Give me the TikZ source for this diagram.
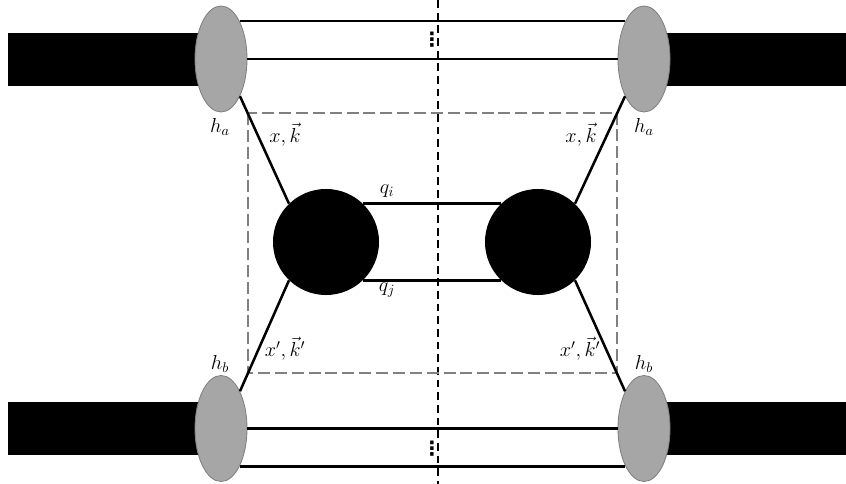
\documentclass[tikz,border=0pt]{standalone}
\usepackage{amsmath}
\usepackage{fontspec}
\newfontfamily\dotsfont{DejaVu Sans}
\usetikzlibrary{arrows,positioning,calc}
\usetikzlibrary{shapes}
\definecolor{hadgray}{HTML}{A6A6A6}
\definecolor{boxgray}{HTML}{808080}

\begin{document}
\begin{tikzpicture}[x=0.025cm,y=-0.025cm,
    line/.style={line width=1.8pt},
    had/.style={draw=boxgray,fill=hadgray,ellipse,line width=0.6pt,inner sep=0pt,minimum width=1.3cm,minimum height=2.65cm},
    blob/.style={circle,fill=black,inner sep=0pt,minimum size=2.65cm},
    lab/.style={font=\fontsize{14.5}{16}\selectfont,inner sep=1pt},
    dots/.style={font=\dotsfont\bfseries\fontsize{14}{14}\selectfont,inner sep=0pt}]
      \useasboundingbox (0,0) rectangle (846,484);

      % beams
      \fill (8,33) rectangle (221,86);
      \fill (644,33) rectangle (846,86);
      \fill (8,402) rectangle (221,455);
      \fill (644,402) rectangle (846,455);

      % cut
      \coordinate (cuttop) at (438,0);
      \coordinate (cutbot) at (438,484);
      \draw[line width=1.3pt,dash pattern=on 5.5pt off 3.5pt] (cuttop)--(cutbot);

      % box
      \draw[boxgray,line width=1.5pt,dash pattern=on 8.5pt off 3.5pt] (248,113) rectangle (617,373);

      \node[had] (hal) at (221,59) {};
      \node[had] (har) at (644,59) {};
      \node[had] (hbl) at (221,428.5) {};
      \node[had] (hbr) at (644,428.5) {};

      \node[blob] (bl) at (326,242) {};
      \node[blob] (br) at (538,242) {};

      % spectators
      \draw[line] (hal.64)--(har.116);
      \draw[line] (hal.east)--(har.west);
      \draw[line] (hbl.east)--(hbr.west);
      \draw[line] (hbl.-64)--(hbr.-116);

      \node[dots] (dta) at (432,40) {⋮};
      \node[dots] (dtb) at (432,449) {⋮};

      % partons
      \draw[line] (hal.-63)--(bl.134);
      \draw[line] (hbl.63)--(bl.-134);
      \draw[line] (har.-117)--(br.46);
      \draw[line] (hbr.117)--(br.-46);

      \draw[line] (bl.46)--(br.134);
      \draw[line] (bl.-46)--(br.-134);

      \node[lab] (la) at (220,127) {$h_a$};
      \node[lab] (ra) at (644,127) {$h_a$};
      \node[lab] (lb) at (220,364) {$h_b$};
      \node[lab] (rb) at (644,364) {$h_b$};

      \node[lab] (lk) at (285,135) {$x,\vec{k}$};
      \node[lab] (rk) at (581,135) {$x,\vec{k}$};
      \node[lab] (lkp) at (285,349) {$x',\vec{k}'$};
      \node[lab] (rkp) at (580,349) {$x',\vec{k}'$};

      \node[lab] (qi) at (387,191) {$q_i$};
      \node[lab] (qj) at (387,290) {$q_j$};

    \end{tikzpicture}
\end{document}
